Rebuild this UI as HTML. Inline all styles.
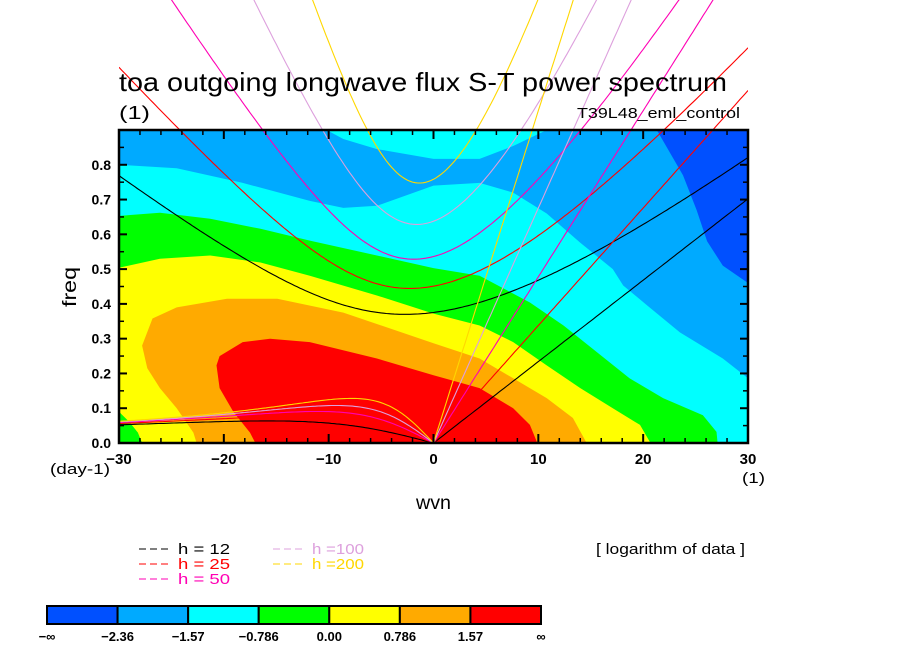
<!DOCTYPE html>
<html><head><meta charset="utf-8"><style>
html,body{margin:0;padding:0;background:#fff;}
svg{display:block;font-family:"Liberation Sans",sans-serif;}
</style></head><body>
<svg id="chart" width="904" height="654" viewBox="0 0 904 654" xmlns="http://www.w3.org/2000/svg">
<defs><clipPath id="xclip"><rect x="119" y="0" width="629" height="443"/></clipPath>
<clipPath id="plotclip"><rect x="119" y="130" width="629" height="313"/></clipPath></defs>
<rect x="0" y="0" width="904" height="654" fill="#fff"/>
<g id="fills" clip-path="url(#plotclip)"></g>
<g id="curves" clip-path="url(#xclip)"></g>
<rect x="119" y="130" width="629" height="313" fill="none" stroke="#000" stroke-width="2.5"/>
<g id="ticks"></g>
<text x="119" y="91" font-size="26" textLength="608" lengthAdjust="spacingAndGlyphs">toa outgoing longwave flux S-T power spectrum</text>
<text x="119" y="119" font-size="18" textLength="31" lengthAdjust="spacingAndGlyphs">(1)</text>
<text x="577" y="118" font-size="15" textLength="163" lengthAdjust="spacingAndGlyphs">T39L48_eml_control</text>
<text x="76" y="287" font-size="19" text-anchor="middle" textLength="40" lengthAdjust="spacingAndGlyphs" transform="rotate(-90 76 287)">freq</text>
<text x="416" y="509" font-size="19" textLength="35" lengthAdjust="spacingAndGlyphs">wvn</text>
<text x="50" y="474" font-size="15" textLength="60" lengthAdjust="spacingAndGlyphs">(day-1)</text>
<text x="742" y="483" font-size="15" textLength="23" lengthAdjust="spacingAndGlyphs">(1)</text>
<text x="596" y="554" font-size="15" textLength="149" lengthAdjust="spacingAndGlyphs">[ logarithm of data ]</text>
<g id="legend"></g>
<g id="cbar"></g>
</svg>
<script>
// ---- data ----
const xTicks=[-30,-20,-10,0,10,20,30];
const yTicks=[0.0,0.1,0.2,0.3,0.4,0.5,0.6,0.7,0.8];
const depths=[12,25,50,100,200];
const depthColors=["#000000","#ff0000","#ff00b4","#dda0dd","#ffd700"];
const levelLabels=["-\u221e","-2.36","-1.57","-0.786","0.00","0.786","1.57","\u221e"];
const levelColors=["#0050ff","#00aaff","#00ffff","#00ff00","#ffff00","#ffaa00","#ff0000"];
// contour boundaries (wavenumber, freq)
const cyanTopPatch=[[-10.2,0.9],[-8.6,0.874],[-5.4,0.845],[0,0.817],[4.4,0.817],[7.6,0.854],[10.8,0.9]];
const cyanUpper=[[-30,0.8],[-24.5,0.79],[-18.2,0.748],[-11.8,0.696],[-8.6,0.676],[-5.4,0.682],[0,0.74],[4.4,0.748],[7.6,0.72],[10.8,0.66],[14,0.576],[17.1,0.5],[18.1,0.453],[20.4,0.395],[23.5,0.318],[27.6,0.243],[30,0.186]];
const greenUpper=[[-30,0.653],[-26.1,0.662],[-21.3,0.645],[-16.5,0.616],[-11.8,0.582],[-5.4,0.539],[0,0.503],[4.4,0.481],[9.2,0.404],[12.4,0.338],[15.6,0.261],[18.7,0.186],[21.9,0.129],[25.7,0.08],[27,0.032],[27.1,0]];
const yellowUpper=[[-30,0.504],[-26.1,0.53],[-21.3,0.539],[-16.5,0.519],[-11.8,0.481],[-5.4,0.424],[0,0.372],[4.4,0.338],[7.6,0.29],[10.8,0.223],[14,0.158],[17.1,0.1],[19.7,0.052],[20.7,0]];
const greenPatch=[[-30,0],[-30,0.09],[-29,0.06],[-28.2,0.03],[-27.8,0]];
const orangeBound=[[-22.6,0],[-22.9,0.03],[-24.5,0.1],[-26.1,0.158],[-27.3,0.215],[-27.8,0.28],[-26.8,0.358],[-24.5,0.39],[-19.7,0.415],[-14.9,0.415],[-8.6,0.375],[0,0.287],[4.4,0.243],[7.6,0.186],[10.8,0.129],[13.3,0.072],[14.6,0]];
const redBound=[[-17,0],[-17.5,0.03],[-19.1,0.09],[-20.4,0.158],[-20.7,0.223],[-20.4,0.25],[-18.2,0.29],[-15.6,0.3],[-11.8,0.29],[-5.4,0.243],[0,0.195],[4.4,0.158],[7.6,0.1],[9.2,0.052],[9.9,0]];
const darkCorner=[[21.3,0.9],[23.8,0.77],[25.1,0.67],[26.1,0.58],[27.6,0.51],[30,0.46],[30,0.9]];

const NS="http://www.w3.org/2000/svg";
const X=s=>119+(s+30)/60*629;
const Y=f=>443-f/0.9*313;
function mk(tag,attrs,parent){const e=document.createElementNS(NS,tag);for(const k in attrs)e.setAttribute(k,attrs[k]);parent.appendChild(e);return e;}
const fills=document.getElementById('fills');
function poly(pts,color,name){
  const p=mk('polygon',{points:pts.map(q=>X(q[0]).toFixed(1)+','+Y(q[1]).toFixed(1)).join(' '),fill:color},fills);
  
  
}
poly([[-30,0],[-30,0.95],[30,0.95],[30,0]],levelColors[1],'region-lightblue');
poly([[-30,0]].concat(cyanUpper,[[30,0]]),levelColors[2],'region-cyan');
poly(cyanTopPatch,levelColors[2],'region-cyan-top');
poly([[-30,0]].concat(greenUpper),levelColors[3],'region-green');
poly([[-30,0]].concat(yellowUpper),levelColors[4],'region-yellow');
poly(greenPatch,levelColors[3],'region-green-patch');
poly(orangeBound,levelColors[5],'region-orange');
poly(redBound,levelColors[6],'region-red');
poly(darkCorner,levelColors[0],'region-darkblue');

// dispersion curves
const beta=2.29e-11,g=9.8,Re=6.371e6,cpd=86400/(2*Math.PI);
const curves=document.getElementById('curves');
function line(pts,color,name){
  const p=mk('polyline',{points:pts.map(q=>X(q[0]).toFixed(1)+','+Y(q[1]).toFixed(1)).join(' '),fill:'none',stroke:color,'stroke-width':1.1},curves);
  
  
}
depths.forEach((h,i)=>{
  const c=Math.sqrt(g*h);const col=depthColors[i];
  const ig=[],ros=[],kel=[];
  for(let s=-30;s<=30.001;s+=0.25){
    const k=s/Re;
    let w=Math.sqrt(c*c*k*k+3*beta*c);
    for(let it=0;it<40;it++){w=Math.sqrt(Math.max(1e-20,c*c*k*k+3*beta*c+beta*k*c*c/w));}
    ig.push([s,w*cpd]);
    if(s<=0){
      let r=0;
      for(let it=0;it<40;it++){r=-beta*k/(k*k+3*beta/c-r*r/(c*c));}
      ros.push([s,r*cpd]);
    }
    if(s>=0) kel.push([s,k*c*cpd]);
  }
  line(ig,col,'ig-curve-h'+h);
  line(ros,col,'rossby-curve-h'+h);
  line(kel,col,'kelvin-line-h'+h);
});

// ticks
const tg=document.getElementById('ticks');
for(let s=-30;s<=30;s+=2){
  const maj=(s%10===0);const L=maj?9:5;
  mk('line',{x1:X(s),y1:443,x2:X(s),y2:443-L,stroke:'#000','stroke-width':maj?2:1.5},tg);
  mk('line',{x1:X(s),y1:130,x2:X(s),y2:130+L,stroke:'#000','stroke-width':maj?2:1.5},tg);
}
for(let j=0;j<=18;j++){
  const f=j*0.05;const maj=(j%2===0);const L=maj?8:5;
  mk('line',{x1:119,y1:Y(f),x2:119+L,y2:Y(f),stroke:'#000','stroke-width':maj?2:1.5},tg);
  mk('line',{x1:748,y1:Y(f),x2:748-L,y2:Y(f),stroke:'#000','stroke-width':maj?2:1.5},tg);
}
xTicks.forEach(v=>{
  const t=mk('text',{x:X(v),y:464,'font-size':15,'font-weight':'bold','text-anchor':'middle'},tg);
  t.textContent=(v<0?'\u2212':'')+Math.abs(v);
  
  
});
yTicks.forEach(v=>{
  const t=mk('text',{x:111,y:Y(v)+5,'font-size':14,'font-weight':'bold','text-anchor':'end'},tg);
  t.textContent=v.toFixed(1);
  
  
});

// legend
const lg=document.getElementById('legend');
const legPos=[[139,554],[139,569],[139,584],[273,554],[273,569]];
depths.forEach((h,i)=>{
  const [lx,ly]=legPos[i];
  const col=depthColors[i];
  const e=mk('g',{},lg);
  
  
  mk('line',{x1:lx,y1:ly-5,x2:lx+30,y2:ly-5,stroke:col,'stroke-width':1,'stroke-dasharray':'7,4'},e);
  const t=mk('text',{x:lx+39,y:ly,'font-size':15,fill:col,textLength:52,lengthAdjust:'spacingAndGlyphs'},e);
  t.textContent=h<100?('h = '+h):('h =' +h);
});

// colorbar
const cb=document.getElementById('cbar');
const bw=(541-47)/7;
levelColors.forEach((c,i)=>{
  const r=mk('rect',{x:47+i*bw,y:606,width:bw,height:18,fill:c,stroke:'#000','stroke-width':2},cb);
  
  
});
levelLabels.forEach((l,i)=>{
  const t=mk('text',{x:47+i*bw,y:641,'font-size':13,'font-weight':'bold','text-anchor':'middle'},cb);
  t.textContent=l.replace('-','\u2212');
  
  
});
</script>
</body></html>
